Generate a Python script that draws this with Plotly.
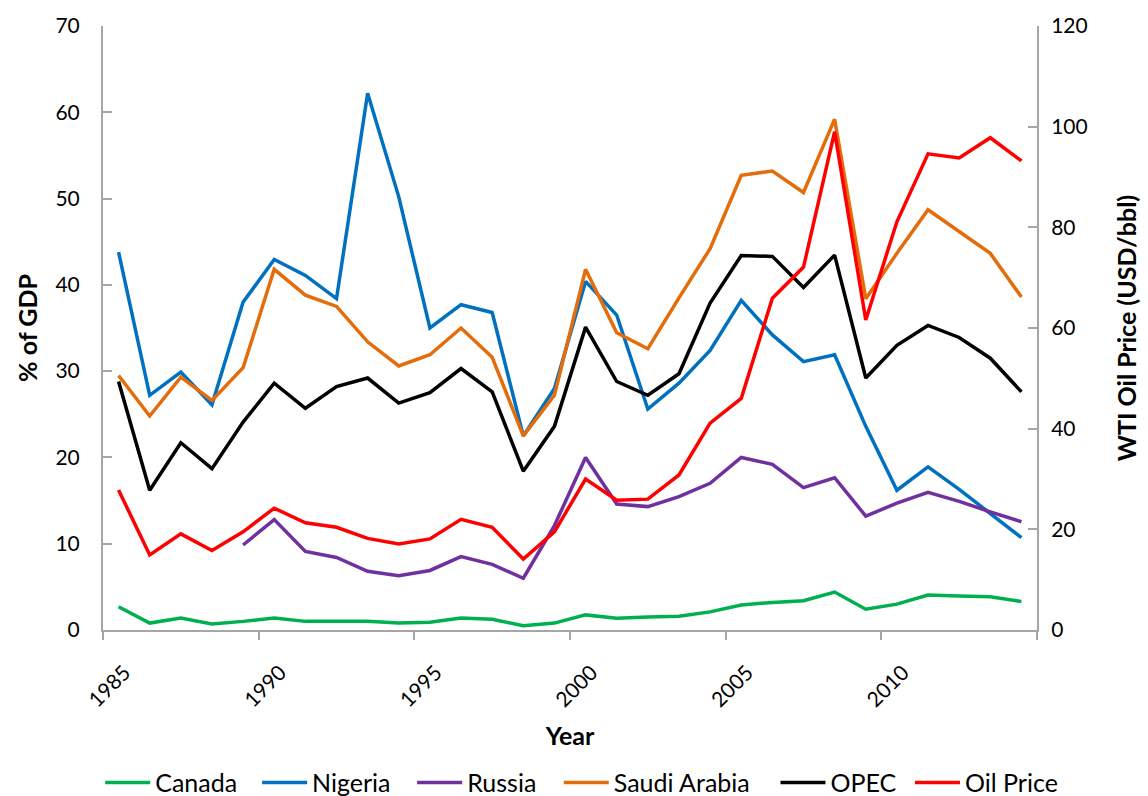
import plotly.graph_objects as go

# Annual values, 1985-2014
years = list(range(1985, 2015))

canada = [2.7, 0.8, 1.4, 0.7, 1.0, 1.4, 1.0, 1.0, 1.0, 0.8, 0.9, 1.4, 1.25, 0.5, 0.8,
          1.75, 1.35, 1.5, 1.6, 2.1, 2.9, 3.2, 3.4, 4.4, 2.4, 3.0, 4.05, 3.95, 3.85, 3.3]

nigeria = [43.8, 27.2, 29.9, 26.1, 38.0, 42.95, 41.1, 38.4, 62.2, 50.2, 35.0, 37.7, 36.8, 22.5, 28.0,
           40.4, 36.5, 25.6, 28.6, 32.4, 38.2, 34.2, 31.1, 31.9, 23.6, 16.2, 18.9, 16.3, 13.5, 10.7]

russia = [None, None, None, None, 9.85, 12.8, 9.1, 8.4, 6.8, 6.3, 6.9, 8.5, 7.6, 6.0, 12.1,
          20.0, 14.6, 14.3, 15.45, 17.0, 20.0, 19.2, 16.5, 17.65, 13.2, 14.7, 15.95, 14.9, 13.7, 12.55]

saudi_arabia = [29.5, 24.8, 29.3, 26.6, 30.4, 41.8, 38.8, 37.5, 33.4, 30.6, 31.9, 35.0, 31.6, 22.5, 27.2,
                41.8, 34.45, 32.6, 38.5, 44.2, 52.7, 53.2, 50.7, 59.2, 38.4, 43.65, 48.7, 46.2, 43.65, 38.6]

opec = [28.8, 16.2, 21.7, 18.7, 24.1, 28.6, 25.7, 28.2, 29.2, 26.3, 27.5, 30.3, 27.6, 18.4, 23.6,
        35.1, 28.8, 27.2, 29.7, 37.9, 43.4, 43.3, 39.7, 43.45, 29.2, 33.0, 35.3, 33.9, 31.5, 27.6]

oil_price = [27.8, 14.9, 19.1, 15.8, 19.5, 24.2, 21.3, 20.4, 18.2, 17.1, 18.1, 22.0, 20.4, 14.1, 19.5,
             30.0, 25.8, 26.0, 30.8, 41.1, 46.0, 65.9, 72.1, 99.0, 61.6, 81.1, 94.6, 93.8, 97.8, 93.2]

tick_years = [1985, 1990, 1995, 2000, 2005, 2010]
boundary_years = [1985, 1990, 1995, 2000, 2005, 2010, 2015]

# each year is drawn in the middle of its category slot
xpos = [y + 0.5 for y in years]

FONT = "Lato"
AXIS_GREY = "#A6A6A6"

# name, values, colour, y axis, legend id, legend left edge (paper fraction)
series = [
    ("Canada", canada, "#00B050", "y", "legend", -0.003),
    ("Nigeria", nigeria, "#0070C0", "y", "legend2", 0.165),
    ("Russia", russia, "#7030A0", "y", "legend3", 0.331),
    ("Saudi Arabia", saudi_arabia, "#E46C0A", "y", "legend4", 0.488),
    ("OPEC", opec, "#000000", "y", "legend5", 0.720),
    ("Oil Price", oil_price, "#FF0000", "y2", "legend6", 0.864),
]

fig = go.Figure()
legends = {}
for name, vals, color, axis, leg, lx in series:
    fig.add_trace(go.Scatter(
        x=xpos, y=vals, name=name, mode="lines", yaxis=axis, legend=leg,
        line=dict(color=color, width=3.5), connectgaps=False,
    ))
    legends[leg] = dict(
        orientation="h", x=lx, xanchor="left", y=-0.253, yanchor="middle",
        font=dict(family=FONT, size=25, color="#000000"),
        itemwidth=45, bgcolor="rgba(0,0,0,0)",
    )

fig.update_layout(
    width=1148, height=796,
    margin=dict(l=103, r=111, t=26, b=166, autoexpand=False),
    paper_bgcolor="white", plot_bgcolor="white",
    font=dict(family=FONT, size=20, color="#000000"),
    showlegend=True,
    xaxis=dict(
        range=[1985, 2015],
        tickmode="array",
        tickvals=[y + 0.5 for y in tick_years],
        ticktext=[str(y) for y in tick_years],
        tickangle=-45,
        ticks="",
        ticklabelstandoff=20,
        ticklabelshift=6,
        tickfont=dict(family=FONT, size=21),
        minor=dict(tickmode="array", tickvals=boundary_years, ticks="outside",
                   ticklen=8, tickwidth=1.5, tickcolor=AXIS_GREY, showgrid=False),
        showline=True, linecolor=AXIS_GREY, linewidth=2,
        showgrid=False, zeroline=False, automargin=False,
        title=dict(text="<b>Year</b>", font=dict(family=FONT, size=25), standoff=17),
    ),
    yaxis=dict(
        range=[0, 70], dtick=10, tick0=0,
        ticks="inside", ticklen=9, tickwidth=1.5, tickcolor=AXIS_GREY,
        ticklabelstandoff=17,
        tickfont=dict(family=FONT, size=21),
        showline=True, linecolor=AXIS_GREY, linewidth=2,
        showgrid=False, zeroline=False, automargin=False,
        title=dict(text="<b>% of GDP</b>", font=dict(family=FONT, size=25), standoff=11),
    ),
    yaxis2=dict(
        range=[0, 120], dtick=20, tick0=0,
        overlaying="y", side="right",
        ticks="inside", ticklen=9, tickwidth=1.5, tickcolor=AXIS_GREY,
        ticklabelstandoff=8,
        tickfont=dict(family=FONT, size=21),
        showline=True, linecolor=AXIS_GREY, linewidth=2,
        showgrid=False, zeroline=False, automargin=False,
        title=dict(text="<b>WTI Oil Price (USD/bbl)</b>", font=dict(family=FONT, size=25), standoff=32),
    ),
    **legends,
)

fig.write_html("out.html")
